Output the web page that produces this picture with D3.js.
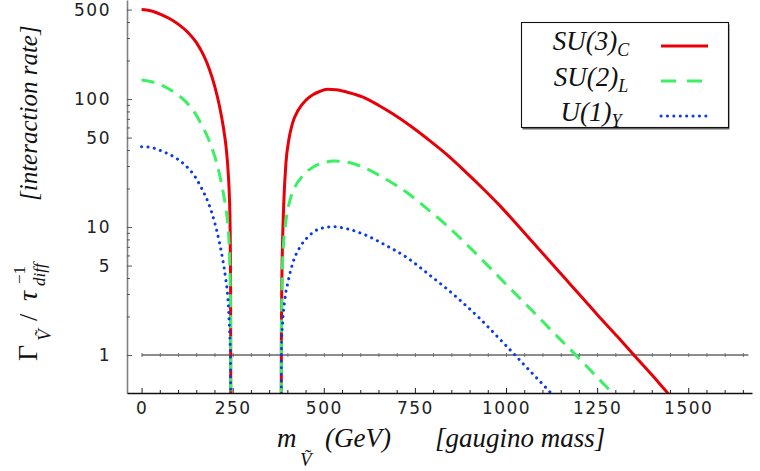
<!DOCTYPE html>
<html><head><meta charset="utf-8">
<script src="https://cdn.jsdelivr.net/npm/d3@7"></script>
<style>body{margin:0;background:#fff} svg{display:block}</style>
</head><body><svg id="c" width="760" height="471"></svg>
<script>
// ---- data ----
const xTicks = [0, 250, 500, 750, 1000, 1250, 1500];
const yTicks = [1, 5, 10, 50, 100, 500];
const seriesNames = ["SU(3)", "SU(2)", "U(1)"];
const seriesSubs = ["C", "L", "Y"];

const su3Mass = [0,30,57,80,104,128,150,170,186,200,214,224,232,238,241,243,244.3,245, null,
  383,383.6,385,387,390,396,404,414,430,451,470,487,510,533,570,606,650,688,740,789,840,889,935,981,1035,1071,1120,1163,1210,1255,1305,1355,1400,1446,1480];
const su3Rate = [500,485,453,420,378,330,277,220,171,128,87.5,61.2,41.9,25.8,17.1,9.8,3.3,0.05, null,
  0.05,1.5,4,7.9,15,31.4,48,64.6,82,98,108,114,119,118,112,104,89.5,77,61,47.7,36.3,27.0,20.2,14.9,10.1,7.75,5.4,3.94,2.79,2.0,1.4,0.97,0.70,0.497,0.39];

const su2Mass = [0,30,68,95,122,145,167,182,195,205,214,224,232,238,242,244,245, null,
  383,383.8,386,389,393,402,410,421,444,471,500,526,572,617,672,727,782,837,873,930,983,1029,1074,1129,1193,1257,1300];
const su2Rate = [141,136,123,110,95,79,61,50,40,32.4,25.7,18.6,13.5,9.3,5.25,2.3,0.05, null,
  0.05,1.5,4,7,9.5,14,17.3,20.6,25.4,29.5,31.8,32.8,31.8,28.5,23.5,18.7,14.0,10.3,8.26,5.71,4.01,2.95,2.19,1.51,0.99,0.64,0.48];

const u1Mass = [0,24.5,60,92,124,147,165,183,200,214,223,230,237,241,244,245, null,
  382.6,384,387,393,403,416,435,457,489,526,563,604,640,672,727,782,837,873,930,983,1019,1047,1074,1111,1140];
const u1Rate = [42.4,41.9,38.7,34.9,29.6,24.7,20,15.5,11,7.5,5.5,4.1,2.7,1.66,0.91,0.05, null,
  0.05,1.16,1.77,2.7,3.85,5.35,7.0,8.4,9.7,10.05,9.7,8.9,8.0,7.15,5.8,4.4,3.3,2.69,1.905,1.33,1.04,0.855,0.71,0.55,0.45];

const refLineMass = [0, 1665];
const refLineRate = [1, 1];

// ---- layout ----
const svg = d3.select("#c");
const L = 127, R = 752, T = 0, B = 393;
const x = d3.scaleLinear().domain([-40, 1675]).range([L, R]);
const y = d3.scaleLog().domain([0.505, 594]).range([B, T]);

const colors = ["#e80008", "#3cf064", "#0a3ce6"];
const dashes = [null, "13 8", "0.1 6.3"];

svg.append("defs").append("clipPath").attr("id","clip")
  .append("rect").attr("x", L).attr("y", T).attr("width", R - L).attr("height", B - T);

// reference axis at rate = 1
const g1 = svg.append("g").attr("transform", `translate(0,${y(1)})`);
g1.call(d3.axisBottom(x).tickValues(d3.range(0, 1651, 50)).tickSize(0).tickFormat(""));
g1.select(".domain").remove();
g1.selectAll(".tick line").attr("y1", -2).attr("y2", 2).attr("stroke", "#777").attr("stroke-width", 1);
svg.append("path")
  .attr("d", d3.line().x(d => x(d[0])).y(d => y(d[1]))(refLineMass.map((m,i)=>[m, refLineRate[i]])))
  .attr("stroke", "#666").attr("stroke-width", 1.5).attr("fill", "none");

// curves
const masses = [su3Mass, su2Mass, u1Mass];
const rates = [su3Rate, su2Rate, u1Rate];
const line = d3.line().defined(d => d[0] != null).x(d => x(d[0])).y(d => y(d[1])).curve(d3.curveMonotoneX);
const plot = svg.append("g").attr("clip-path", "url(#clip)");
masses.forEach((ms, i) => {
  const pts = ms.map((m, j) => [m, rates[i][j]]);
  const p = plot.append("path").attr("d", line(pts)).attr("fill", "none")
    .attr("stroke", colors[i]).attr("stroke-width", 3)
    .attr("stroke-linecap", i === 2 ? "round" : "butt");
  if (dashes[i]) p.attr("stroke-dasharray", dashes[i]);
});

// left axis
const fontNum = "'DejaVu Sans', sans-serif";
const gy = svg.append("g").attr("transform", `translate(${L},0)`);
const minorY = [];
[1,10,100].forEach(d => { for (let k=1;k<10;k++){ const v=d*k; if (v<=594 && yTicks.indexOf(v)<0) minorY.push(v);} });
gy.call(d3.axisLeft(y).tickValues(yTicks).tickFormat(d3.format("d")).tickSizeInner(-5).tickSizeOuter(0).tickPadding(16));
gy.select(".domain").attr("stroke", "#808080").attr("stroke-width", 1.6);
gy.selectAll(".tick line").attr("stroke", "#555").attr("stroke-width", 1);
gy.selectAll(".tick text").attr("font-family", fontNum).attr("font-size", 17).attr("fill", "#222").attr("letter-spacing", 1.5);
const gym = svg.append("g").attr("transform", `translate(${L},0)`);
gym.call(d3.axisLeft(y).tickValues(minorY).tickFormat("").tickSizeInner(-3).tickSizeOuter(0));
gym.select(".domain").remove();
gym.selectAll(".tick line").attr("stroke", "#555").attr("stroke-width", 1);

// bottom axis
const gx = svg.append("g").attr("transform", `translate(0,${B})`);
gx.call(d3.axisBottom(x).tickValues(xTicks).tickFormat(d3.format("d")).tickSizeInner(-5).tickSizeOuter(0).tickPadding(9));
gx.select(".domain").attr("stroke", "#111").attr("stroke-width", 1.4);
gx.selectAll(".tick line").attr("stroke", "#222");
gx.selectAll(".tick text").attr("font-family", fontNum).attr("font-size", 17).attr("fill", "#222").attr("letter-spacing", 1.5);
const gxm = svg.append("g").attr("transform", `translate(0,${B})`);
gxm.call(d3.axisBottom(x).tickValues(d3.range(0, 1651, 50).filter(v => v % 250)).tickFormat("").tickSizeInner(-3).tickSizeOuter(0));
gxm.select(".domain").remove();
gxm.selectAll(".tick line").attr("stroke", "#222");

// axis titles
const serif = "'Liberation Serif', 'DejaVu Serif', serif";
const xl = svg.append("g").attr("font-family", serif).attr("fill", "#111");
xl.append("text").attr("x", 277).attr("y", 447).attr("font-size", 27).attr("font-style", "italic").text("m");
xl.append("text").attr("x", 300).attr("y", 466).attr("font-size", 19).attr("font-style", "italic").text("Ṽ");
xl.append("text").attr("x", 325).attr("y", 447).attr("font-size", 27).attr("font-style", "italic").text("(GeV)");
xl.append("text").attr("x", 435).attr("y", 447).attr("font-size", 27).attr("font-style", "italic").text("[gaugino mass]");

const yl = svg.append("g").attr("font-family", serif).attr("fill", "#111").attr("transform", "translate(37,0) rotate(-90)");
yl.append("text").attr("x", -361).attr("y", 0).attr("font-size", 28).text("Γ");
yl.append("text").attr("x", -341).attr("y", 14).attr("font-size", 19).attr("font-style", "italic").text("Ṽ");
yl.append("text").attr("x", -321).attr("y", 0).attr("font-size", 26).text("/");
yl.append("text").attr("x", -301).attr("y", 0).attr("font-size", 28).attr("font-style", "italic").text("τ");
yl.append("text").attr("x", -284).attr("y", -12).attr("font-size", 17).text("−1");
yl.append("text").attr("x", -286).attr("y", 8).attr("font-size", 17).attr("font-style", "italic").text("diff");
yl.append("text").attr("x", -201).attr("y", 0).attr("font-size", 25).attr("font-style", "italic").text("[interaction rate]");

// legend
const lg = svg.append("g");
lg.append("rect").attr("x", 522.5).attr("y", 24.5).attr("width", 207).attr("height", 105).attr("fill", "#666");
lg.append("rect").attr("x", 521.5).attr("y", 22.5).attr("width", 207).attr("height", 105).attr("fill", "#fff").attr("stroke", "#111").attr("stroke-width", 1.1);
const rowY = [46, 81, 116];
const textY = [50, 86, 121];
seriesNames.forEach((n, i) => {
  const t = lg.append("text").attr("x", 591).attr("y", textY[i]).attr("text-anchor", "middle")
    .attr("font-family", serif).attr("font-style", "italic").attr("font-size", 27).attr("fill", "#111");
  t.append("tspan").text(n);
  t.append("tspan").attr("font-size", 18).attr("dy", 6).text(seriesSubs[i]);
  const l = lg.append("line").attr("x1", 661).attr("x2", 708).attr("y1", rowY[i]).attr("y2", rowY[i])
    .attr("stroke", colors[i]).attr("stroke-width", 3).attr("stroke-linecap", i === 2 ? "round" : "butt");
  if (dashes[i]) l.attr("stroke-dasharray", i === 1 ? "15 11" : dashes[i]);
});
</script></body></html>
